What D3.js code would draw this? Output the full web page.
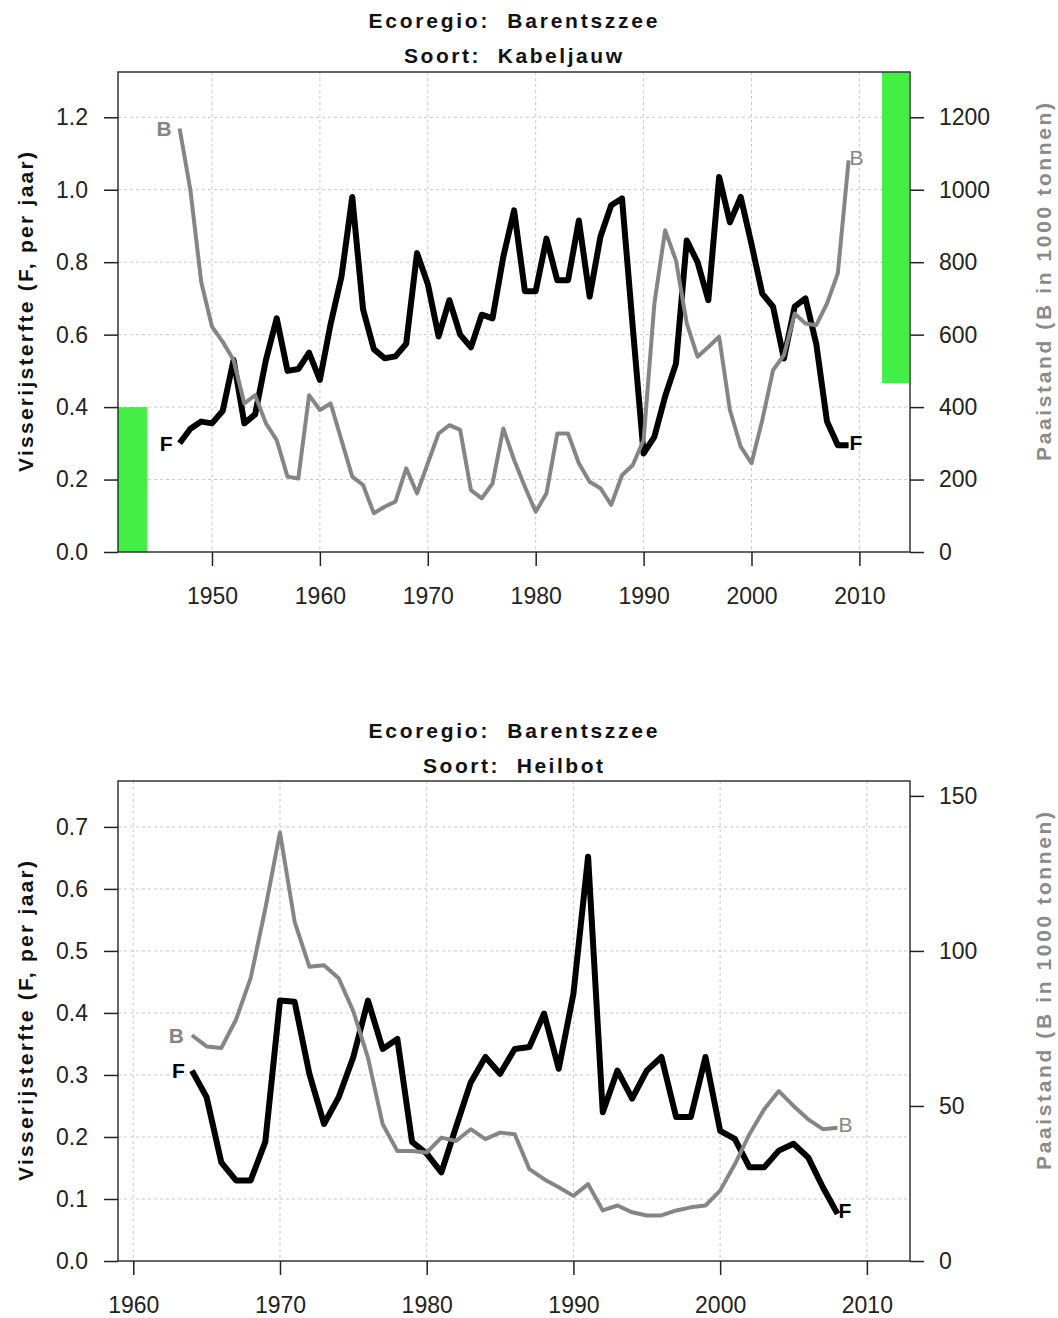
<!DOCTYPE html>
<html>
<head>
  <meta charset="utf-8">
  <script src="https://d3js.org/d3.v7.min.js"></script>
  <style>
    body { margin: 0; background: #fff; }
    svg text { font-family: "Liberation Sans", Arial, sans-serif; }
    .tick text { font-size: 23px; fill: #222; }
    .tick line { stroke: #222; stroke-width: 1.5px; }
    .title { font-size: 21px; font-weight: bold; fill: #111; }
    .ylab { font-size: 21px; font-weight: bold; }
    .grid line { stroke: #c8c8c8; stroke-width: 1px; stroke-dasharray: 3,3; }
  </style>
</head>
<body>
<div id="chart"></div>
<script>
// Kabeljauw (cod), Barentszzee
var codYears = d3.range(1947, 2010);
var codF = [0.30, 0.34, 0.36, 0.355, 0.39, 0.53, 0.355, 0.38, 0.53, 0.645,
            0.50, 0.505, 0.55, 0.475, 0.63, 0.76, 0.98, 0.67, 0.56, 0.535,
            0.54, 0.575, 0.825, 0.74, 0.595, 0.695, 0.60, 0.565, 0.655, 0.645,
            0.815, 0.943, 0.72, 0.72, 0.865, 0.75, 0.75, 0.915, 0.705, 0.87,
            0.957, 0.976, 0.62, 0.272, 0.318, 0.43, 0.52, 0.86, 0.80, 0.695,
            1.035, 0.91, 0.98, 0.85, 0.713, 0.677, 0.534, 0.677, 0.70, 0.575,
            0.36, 0.295, 0.295];
var codB = [1169, 999, 746, 622, 580, 530, 410, 433, 355, 309,
            208, 203, 433, 392, 410, 309, 208, 185, 107, 125,
            139, 231, 162, 245, 327, 350, 337, 171, 148, 189,
            341, 254, 180, 111, 162, 327, 327, 245, 194, 176,
            130, 212, 240, 309, 686, 888, 805, 631, 539, 566,
            594, 392, 291, 245, 364, 502, 543, 658, 631, 626,
            686, 769, 1081];
var codFlim = 0.40;   // green bar, left axis
var codBlim = 466;    // green bar, right axis

// Heilbot (halibut), Barentszzee
var halYears = d3.range(1964, 2009);
var halF = [0.307, 0.264, 0.159, 0.130, 0.130, 0.192, 0.42, 0.418, 0.302, 0.221,
            0.264, 0.329, 0.42, 0.342, 0.358, 0.192, 0.173, 0.143, 0.216, 0.288,
            0.329, 0.302, 0.342, 0.345, 0.399, 0.31, 0.431, 0.652, 0.24, 0.307,
            0.262, 0.307, 0.329, 0.232, 0.232, 0.329, 0.21, 0.197, 0.151, 0.151,
            0.178, 0.189, 0.167, 0.119, 0.076];
var halB = [72.8, 69.2, 68.7, 77.8, 91.2, 113.6, 138.2, 109.4, 94.9, 95.4,
            91.2, 80.5, 65.5, 44.1, 35.5, 35.5, 35.0, 39.8, 38.7, 42.5,
            39.3, 41.4, 40.9, 29.6, 26.4, 23.8, 21.0, 24.8, 16.3, 17.9,
            15.7, 14.7, 14.7, 16.3, 17.3, 17.9, 22.7, 31.2, 40.9, 48.9,
            54.8, 50.0, 45.7, 42.5, 43.0];

var codXTicks = [1950, 1960, 1970, 1980, 1990, 2000, 2010];
var codFTicks = [0.0, 0.2, 0.4, 0.6, 0.8, 1.0, 1.2];
var codBTicks = [0, 200, 400, 600, 800, 1000, 1200];
var halXTicks = [1960, 1970, 1980, 1990, 2000, 2010];
var halFTicks = [0.0, 0.1, 0.2, 0.3, 0.4, 0.5, 0.6, 0.7];
var halBTicks = [0, 50, 100, 150];

var svg = d3.select("#chart").append("svg")
  .attr("width", 1058).attr("height", 1318);
svg.append("rect").attr("width", 1058).attr("height", 1318).attr("fill", "#fff");

function panel(o) {
  var left = 118, right = 910;
  var x = d3.scaleLinear().domain(o.xDom).range([left, right]);
  var yF = d3.scaleLinear().domain(o.fDom).range([o.bottom, o.top]);
  var yB = d3.scaleLinear().domain(o.bDom).range([o.bottom, o.top]);
  var g = svg.append("g");

  // titles
  g.append("text").attr("class", "title")
    .attr("x", 513).attr("y", o.titleY).attr("text-anchor", "middle")
    .attr("dominant-baseline", "central")
    .attr("textLength", 289).attr("lengthAdjust", "spacing")
    .style("white-space", "pre")
    .text("Ecoregio:  Barentszzee");
  g.append("text").attr("class", "title")
    .attr("x", 513).attr("y", o.titleY + 35).attr("text-anchor", "middle")
    .attr("dominant-baseline", "central")
    .attr("textLength", o.soortLen).attr("lengthAdjust", "spacing")
    .style("white-space", "pre")
    .text("Soort:  " + o.soort);

  // grid
  var grid = g.append("g").attr("class", "grid");
  grid.selectAll(".gx").data(o.xTicks).enter().append("line")
    .attr("x1", d => x(d)).attr("x2", d => x(d))
    .attr("y1", o.top).attr("y2", o.bottom);
  grid.selectAll(".gy").data(o.fTicks.filter(d => d > 0)).enter().append("line")
    .attr("x1", left).attr("x2", right)
    .attr("y1", d => yF(d)).attr("y2", d => yF(d));

  // reference bars
  if (o.flim != null) {
    g.append("rect").attr("fill", "#44ee44")
      .attr("x", left).attr("width", x(1944) - left)
      .attr("y", yF(o.flim)).attr("height", o.bottom - yF(o.flim));
    g.append("rect").attr("fill", "#44ee44")
      .attr("x", x(2012.1)).attr("width", x(2014.6) - x(2012.1))
      .attr("y", o.top).attr("height", yB(o.blim) - o.top);
  }

  // lines
  var fLine = d3.line().x((d, i) => x(o.years[i])).y(d => yF(d));
  var bLine = d3.line().x((d, i) => x(o.years[i])).y(d => yB(d));
  g.append("path").datum(o.F).attr("d", fLine)
    .attr("fill", "none").attr("stroke", "#000").attr("stroke-width", 6)
    .attr("stroke-linejoin", "round");
  g.append("path").datum(o.B).attr("d", bLine)
    .attr("fill", "none").attr("stroke", "#858585").attr("stroke-width", 4)
    .attr("stroke-linejoin", "round");

  // F / B labels at both ends
  var n = o.years.length - 1;
  var x0 = x(o.years[0]), x1 = x(o.years[n]);
  var lab = [
    {t: "F", x: x0 - 7, y: yF(o.F[0]), a: "end", c: "#000", w: "bold"},
    {t: "B", x: x0 - 8, y: yB(o.B[0]), a: "end", c: "#858585", w: "bold"},
    {t: "F", x: x1 + 1, y: yF(o.F[n]) - 3, a: "start", c: "#000", w: "bold"},
    {t: "B", x: x1 + 1, y: yB(o.B[n]) - 3, a: "start", c: "#858585", w: "normal"}
  ];
  g.selectAll(".lab").data(lab).enter().append("text")
    .attr("x", d => d.x).attr("y", d => d.y)
    .attr("text-anchor", d => d.a).attr("dominant-baseline", "central")
    .style("font-size", "21px").style("font-weight", d => d.w)
    .attr("fill", d => d.c).text(d => d.t);

  // box
  g.append("rect").attr("x", left).attr("y", o.top)
    .attr("width", right - left).attr("height", o.bottom - o.top)
    .attr("fill", "none").attr("stroke", "#333").attr("stroke-width", 1.5);

  // axes
  var ax = g.append("g").attr("transform", "translate(0," + o.bottom + ")")
    .call(d3.axisBottom(x).tickValues(o.xTicks).tickFormat(d3.format("d"))
      .tickSize(14).tickPadding(22));
  var al = g.append("g").attr("transform", "translate(" + left + ",0)")
    .call(d3.axisLeft(yF).tickValues(o.fTicks).tickFormat(d3.format(".1f"))
      .tickSize(14).tickPadding(16));
  var ar = g.append("g").attr("transform", "translate(" + right + ",0)")
    .call(d3.axisRight(yB).tickValues(o.bTicks).tickFormat(d3.format("d"))
      .tickSize(14).tickPadding(15));
  [ax, al, ar].forEach(function (a) {
    a.select(".domain").remove();
    a.selectAll("text").attr("font-family", null).attr("font-size", null);
  });

  // axis titles
  var mid = (o.top + o.bottom) / 2;
  g.append("text").attr("class", "ylab")
    .attr("transform", "translate(25," + mid + ") rotate(-90)")
    .attr("text-anchor", "middle").attr("dominant-baseline", "central")
    .attr("textLength", 320).attr("lengthAdjust", "spacing")
    .attr("fill", "#111").text("Visserijsterfte (F, per jaar)");
  g.append("text").attr("class", "ylab")
    .attr("transform", "translate(1043," + (mid - 30) + ") rotate(-90)")
    .attr("text-anchor", "middle").attr("dominant-baseline", "central")
    .attr("textLength", 358).attr("lengthAdjust", "spacing")
    .attr("fill", "#8a8a8a").text("Paaistand (B in 1000 tonnen)");
}

panel({
  top: 72, bottom: 552, titleY: 20, soort: "Kabeljauw", soortLen: 218,
  xDom: [1941.29, 2014.69], fDom: [0, 1.325], bDom: [0, 1325],
  xTicks: codXTicks, fTicks: codFTicks, bTicks: codBTicks,
  years: codYears, F: codF, B: codB, flim: codFlim, blim: codBlim
});

panel({
  top: 781, bottom: 1261, titleY: 730, soort: "Heilbot", soortLen: 180,
  xDom: [1958.96, 2012.94], fDom: [0, 0.774], bDom: [0, 154.8],
  xTicks: halXTicks, fTicks: halFTicks, bTicks: halBTicks,
  years: halYears, F: halF, B: halB, flim: null
});
</script>
</body>
</html>
